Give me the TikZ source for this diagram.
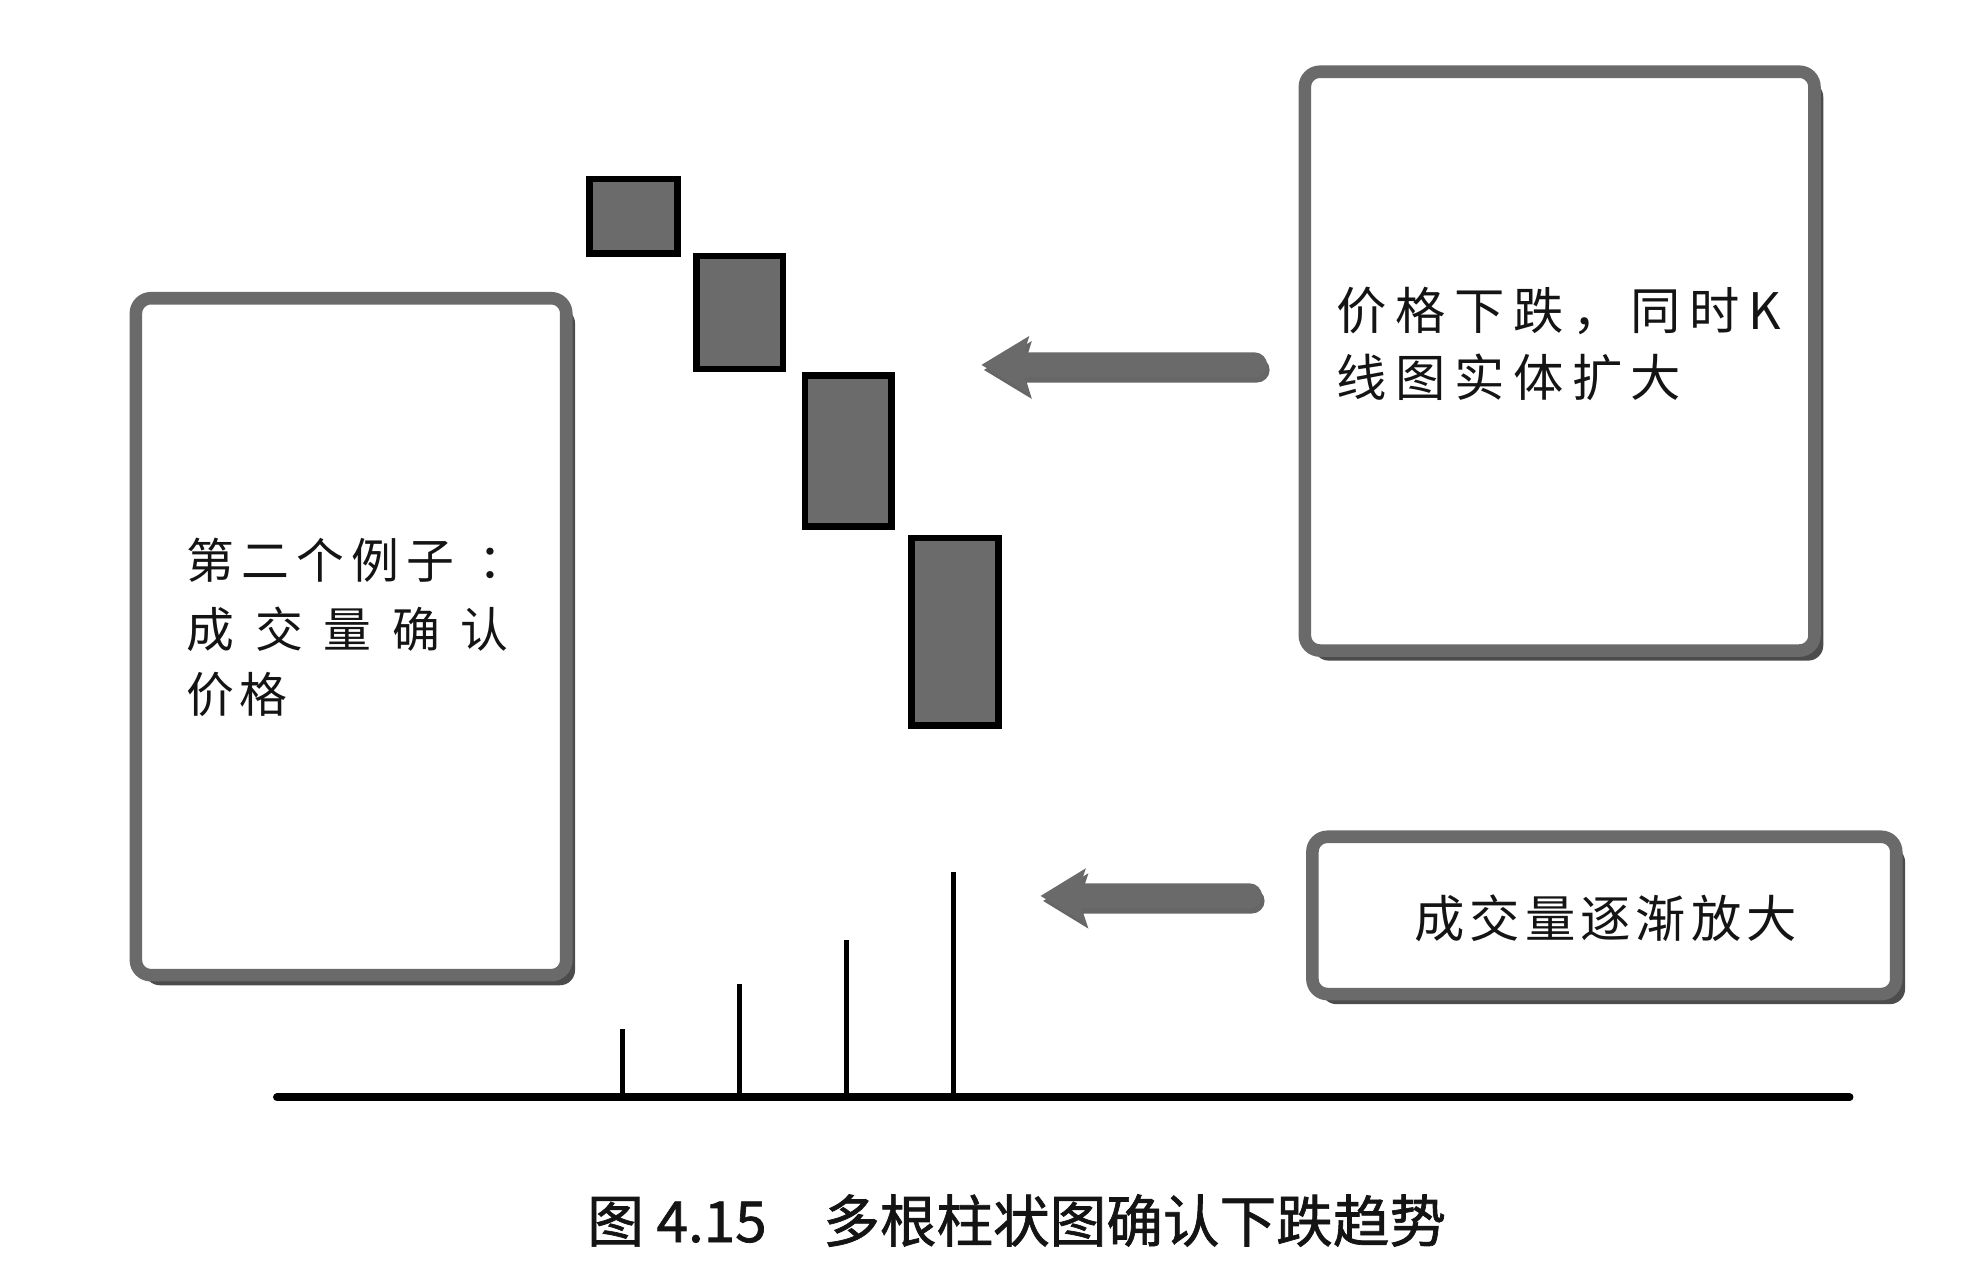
\documentclass[tikz,border=0pt]{standalone}
\usepackage{fontspec}
\newfontfamily\cjk{Noto Sans CJK SC}
\newfontfamily\cjkcap[FakeBold=1.2]{Noto Sans CJK SC}
\newfontfamily\cjkls[LetterSpace=10]{Noto Sans CJK SC}
\newfontfamily\cjklsa[LetterSpace=15]{Noto Sans CJK SC}
\newfontfamily\cjklsb[LetterSpace=17]{Noto Sans CJK SC}
\usetikzlibrary{shadows,calc}
\definecolor{boxgray}{HTML}{6A6A6A}
\definecolor{candlegray}{HTML}{6B6B6B}
\begin{document}
\begin{tikzpicture}[x=1pt,y=-1pt,
  callout/.style={draw=boxgray, line width=10pt, fill=white, rounded corners=12pt, inner sep=0pt,
    drop shadow={shadow xshift=7pt, shadow yshift=-8pt, fill=black, opacity=0.7}},
  candle/.style={draw=black, line width=5pt, fill=candlegray, inner sep=0pt},
  txt/.style={inner sep=0pt, anchor=west, text=black!92},
  vol/.style={line width=4pt, black},
  bigarrow/.style={fill=boxgray, drop shadow={shadow xshift=2pt, shadow yshift=-4pt, fill=black, opacity=0.6}}
]
\useasboundingbox (0,0) rectangle (1568,1018);
\fill[white] (0,0) rectangle (1568,1018);

% callout boxes
\node[callout, minimum width=342pt, minimum height=538pt] (lbox) at (279,506) {};
\node[callout, minimum width=405pt, minimum height=460pt] (rtbox) at (1239.5,287) {};
\node[callout, minimum width=464pt, minimum height=125pt] (rbbox) at (1275,727.5) {};

% left box text
\node[txt] (l1) at (148,445) {\cjklsa\fontsize{38}{40}\selectfont\hbox to 252pt{第二个例子\hfill ：\kern-18pt}};
\node[txt] (l2) at (148,500) {\cjk\fontsize{38}{40}\selectfont\hbox to 256pt{成\hfill 交\hfill 量\hfill 确\hfill 认}};
\node[txt] (l3) at (148,552) {\cjkls\fontsize{38}{40}\selectfont 价格};

% right top text
\node[txt] (r1) at (1062,247) {\cjklsb\fontsize{40}{44}\selectfont 价格下跌，同时K};
\node[txt] (r2) at (1062,300) {\cjklsb\fontsize{40}{44}\selectfont 线图实体扩大};

% right bottom text
\node[inner sep=0pt, text=black!92] (r3) at (1276,730) {\cjkls\fontsize{40}{44}\selectfont 成交量逐渐放大};

% candles
\node[candle, minimum width=70pt, minimum height=59pt] (c1) at (503.5,172) {};
\node[candle, minimum width=69pt, minimum height=90pt] (c2) at (588,248.5) {};
\node[candle, minimum width=69pt, minimum height=120pt] (c3) at (674,358.5) {};
\node[candle, minimum width=69pt, minimum height=149pt] (c4) at (759,502) {};

% arrows
\coordinate (a1t) at (780,290);
\coordinate (a1s) at (997,290);
\fill[bigarrow] (a1t) -- ++(38,-23) -- ++(-4,13) -- ($(a1s)+(0,-10)$)
  arc[start angle=-90, end angle=90, radius=10] -- ($(a1t)+(34,10)$) -- ++(4,13) -- cycle;
\coordinate (a2t) at (827,712);
\coordinate (a2s) at (993,712);
\fill[bigarrow] (a2t) -- ++(36,-22) -- ++(-4,12) -- ($(a2s)+(0,-10)$)
  arc[start angle=-90, end angle=90, radius=10] -- ($(a2t)+(32,10)$) -- ++(4,12) -- cycle;

% volume bars and baseline
\coordinate (b0) at (220,872);
\coordinate (b1) at (1470,872);
\coordinate (v1) at (495,818);
\coordinate (v2) at (588,782);
\coordinate (v3) at (673,747);
\coordinate (v4) at (758,693);
\foreach \v in {v1,v2,v3,v4} {\draw[vol] (\v) -- (\v |- b0);}
\draw[line width=6pt, line cap=round] (b0) -- (b1);

% caption
\node[inner sep=0pt, text=black!92] (cap) at (808,970) {\cjkcap\fontsize{45}{50}\selectfont 图 4.15\hspace{1em}多根柱状图确认下跌趋势};
\end{tikzpicture}
\end{document}
